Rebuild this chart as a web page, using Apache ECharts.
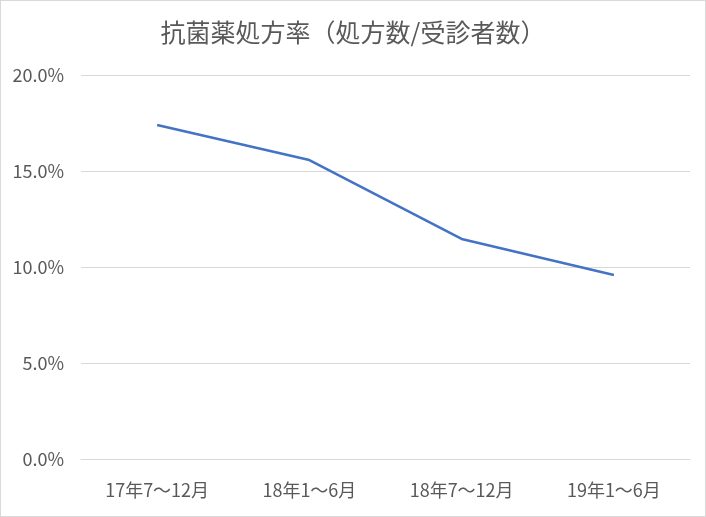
<!DOCTYPE html>
<html><head><meta charset="utf-8">
<script src="https://cdn.jsdelivr.net/npm/echarts@6/dist/echarts.min.js"></script>
<style>html,body{margin:0;padding:0;background:#fff}#c{width:706px;height:517px;box-sizing:border-box;border:1px solid #d9d9d9}</style>
</head><body><div id="c"></div>
<script>
const categories = ['17年7〜12月','18年1〜6月','18年7〜12月','19年1〜6月'];
const rates = [0.174, 0.1557, 0.1146, 0.0958];
const chart = echarts.init(document.getElementById('c'));
const font = '"Noto Sans CJK JP", "Noto Sans", sans-serif';
chart.setOption({
  animation:false,
  title:{text:'抗菌薬処方率（処方数/受診者数）',left:'center',top:14,
    textStyle:{color:'#595959',fontSize:25,fontWeight:'normal',fontFamily:font}},
  grid:{left:80,right:15,top:74,bottom:57},
  xAxis:{type:'category',data:categories,boundaryGap:true,
    axisLine:{lineStyle:{color:'#d9d9d9'}},axisTick:{show:false},
    axisLabel:{color:'#595959',fontSize:18,margin:22,fontFamily:font}},
  yAxis:{type:'value',min:0,max:0.2,interval:0.05,
    axisLine:{show:false},axisTick:{show:false},
    splitLine:{lineStyle:{color:'#d9d9d9'}},
    axisLabel:{color:'#595959',fontSize:18,margin:17,fontFamily:font,
      formatter:v=>(v*100).toFixed(1)+'%'}},
  series:[{type:'line',data:rates,symbol:'none',
    lineStyle:{color:'#4472c4',width:2.5}}]
});
</script></body></html>
